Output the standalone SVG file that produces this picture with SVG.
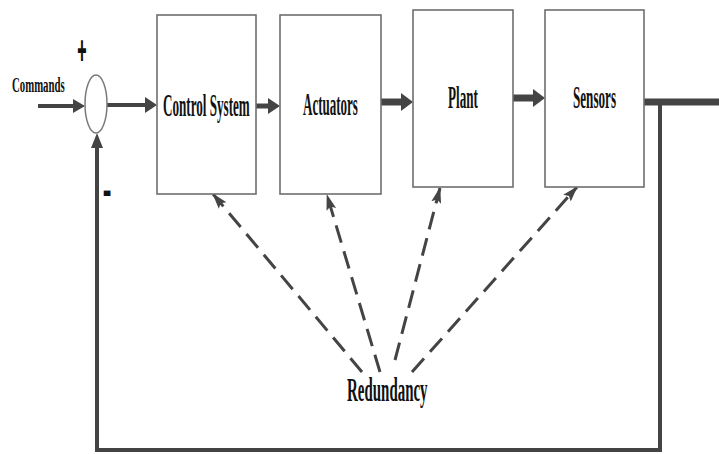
<svg xmlns="http://www.w3.org/2000/svg" width="719" height="454" viewBox="0 0 719 454">
<style>
.box{fill:#fff;stroke:#6e6e6e;stroke-width:1.6}
.lbl{font-family:"Liberation Serif","Times New Roman",serif;fill:#111;font-weight:bold}
.ln{fill:none;stroke:#444;stroke-linecap:butt}
.hd{fill:#444}
.dash{fill:none;stroke:#444;stroke-width:3;stroke-dasharray:18 9}
</style>
<defs>
<marker id="dh" markerUnits="userSpaceOnUse" markerWidth="16" markerHeight="12" refX="15" refY="5" orient="auto" viewBox="0 0 16 10">
<path d="M0,0 L16,5 L0,10 L3,5 Z" fill="#444"/>
</marker>
</defs>
<g id="connectors">
<line class="ln" x1="38" y1="106" x2="75" y2="106" stroke-width="4"/>
<polygon class="hd" points="85,106 73,99 73,113"/>
<line class="ln" x1="107" y1="105" x2="147" y2="105" stroke-width="4"/>
<polygon class="hd" points="157,105 145,97 145,113"/>
<line class="ln" x1="256" y1="106" x2="270" y2="106" stroke-width="5"/>
<polygon class="hd" points="280,106 268,98 268,114"/>
<line class="ln" x1="381" y1="102" x2="403" y2="102" stroke-width="7"/>
<polygon class="hd" points="413,102 401,93 401,111"/>
<line class="ln" x1="513" y1="98" x2="535" y2="98" stroke-width="7"/>
<polygon class="hd" points="545,98 533,89 533,107"/>
<line class="ln" x1="644" y1="102" x2="719" y2="102" stroke-width="7"/>
<path class="ln" d="M660,102 V450 H97 V145" stroke-width="4"/>
<polygon class="hd" points="97,133 91,148 103,148"/>
<line class="dash" x1="362" y1="372" x2="213" y2="194" marker-end="url(#dh)"/>
<line class="dash" x1="380" y1="372" x2="327" y2="195" marker-end="url(#dh)"/>
<line class="dash" x1="395" y1="360" x2="440" y2="188" marker-end="url(#dh)"/>
<line class="dash" x1="412" y1="372" x2="577" y2="187" marker-end="url(#dh)"/>
</g>
<g id="sum">
<ellipse cx="96" cy="104" rx="11" ry="29" fill="#fff" stroke="#7a7a7a" stroke-width="1.5"/>
<text class="lbl" transform="translate(82,64) scale(0.6,1.5)" x="0" y="0" font-size="26" text-anchor="middle" stroke="#111" stroke-width="1.4">+</text>
<text class="lbl" transform="translate(107,208) scale(1,2.4)" x="0" y="0" font-size="26" text-anchor="middle">-</text>
</g>
<g id="commands">
<text class="lbl" transform="translate(12,92) scale(0.49,1)" x="0" y="0" font-size="22">Commands</text>
</g>
<g id="control-system">
<rect class="box" x="157" y="15" width="99" height="179"/>
<text class="lbl" transform="translate(163,116) scale(0.41,1)" x="0" y="0" font-size="32">Control System</text>
</g>
<g id="actuators">
<rect class="box" x="280" y="15" width="101" height="179"/>
<text class="lbl" transform="translate(303,115) scale(0.407,1)" x="0" y="0" font-size="32">Actuators</text>
</g>
<g id="plant">
<rect class="box" x="413" y="10" width="100" height="177"/>
<text class="lbl" transform="translate(448,108) scale(0.41,1)" x="0" y="0" font-size="32">Plant</text>
</g>
<g id="sensors">
<rect class="box" x="545" y="10" width="99" height="177"/>
<text class="lbl" transform="translate(573,108) scale(0.41,1)" x="0" y="0" font-size="32">Sensors</text>
</g>
<g id="redundancy">
<text class="lbl" transform="translate(347,401) scale(0.44,1)" x="0" y="0" font-size="34">Redundancy</text>
</g>
</svg>
